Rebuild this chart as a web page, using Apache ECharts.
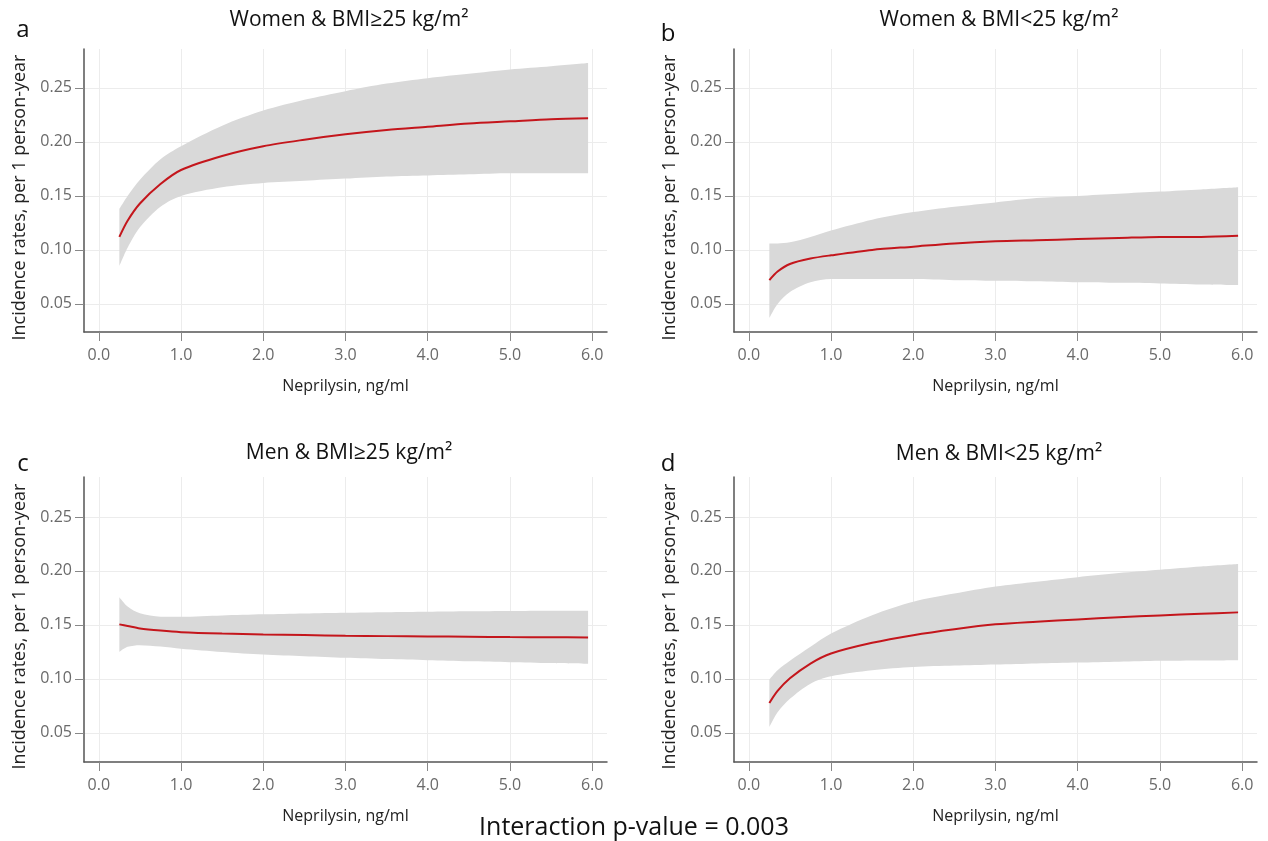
<!DOCTYPE html>
<html lang="en">
<head>
<meta charset="UTF-8">
<title>Neprilysin and incidence rates</title>
<script src="https://cdn.jsdelivr.net/npm/echarts@6/dist/echarts.min.js"></script>
<style>
  html, body { margin: 0; padding: 0; background: #fff; }
  #main { width: 1268px; height: 841px; }
</style>
</head>
<body>
<div id="main"></div>
<script>
// x positions (ng/ml) shared by every panel
var neprilysin = [0.25, 0.35, 0.5, 0.75, 1.0, 1.5, 2.0, 2.5, 3.0, 3.5, 4.0, 4.5, 5.0, 5.5, 5.95];
var xTicks = [0, 1, 2, 3, 4, 5, 6];
var yTicks = [0.05, 0.10, 0.15, 0.20, 0.25];

var panelTitles = ['Women & BMI≥25 kg/m²', 'Women & BMI<25 kg/m²', 'Men & BMI≥25 kg/m²', 'Men & BMI<25 kg/m²'];
var panelLetters = ['a', 'b', 'c', 'd'];

// a: women, BMI>=25
var rateA  = [0.112, 0.127, 0.143, 0.161, 0.174, 0.187, 0.196, 0.202, 0.207, 0.211, 0.214, 0.217, 0.219, 0.221, 0.222];
var lowerA = [0.085, 0.102, 0.121, 0.140, 0.150, 0.158, 0.162, 0.164, 0.166, 0.168, 0.169, 0.170, 0.171, 0.171, 0.171];
var upperA = [0.138, 0.150, 0.165, 0.184, 0.196, 0.215, 0.229, 0.239, 0.247, 0.254, 0.259, 0.263, 0.267, 0.270, 0.273];
// b: women, BMI<25
var rateB  = [0.072, 0.080, 0.087, 0.092, 0.095, 0.100, 0.103, 0.106, 0.108, 0.109, 0.110, 0.111, 0.112, 0.112, 0.113];
var lowerB = [0.037, 0.050, 0.061, 0.070, 0.073, 0.073, 0.073, 0.072, 0.0715, 0.071, 0.070, 0.0695, 0.069, 0.068, 0.0675];
var upperB = [0.106, 0.106, 0.107, 0.112, 0.118, 0.128, 0.135, 0.140, 0.144, 0.148, 0.150, 0.152, 0.154, 0.156, 0.158];
// c: men, BMI>=25
var rateC  = [0.1505, 0.149, 0.1467, 0.1447, 0.1433, 0.142, 0.1412, 0.1406, 0.140, 0.1396, 0.1393, 0.139, 0.1387, 0.1385, 0.1384];
var lowerC = [0.125, 0.1297, 0.1312, 0.130, 0.128, 0.125, 0.1226, 0.121, 0.1195, 0.1183, 0.1173, 0.1163, 0.1154, 0.1146, 0.1139];
var upperC = [0.1756, 0.167, 0.1607, 0.1576, 0.1576, 0.1588, 0.1598, 0.1606, 0.1613, 0.1618, 0.1622, 0.1626, 0.1629, 0.1631, 0.1632];
// d: men, BMI<25
var rateD  = [0.0776, 0.0888, 0.1005, 0.1142, 0.1235, 0.1334, 0.1405, 0.146, 0.1505, 0.153, 0.1551, 0.157, 0.1588, 0.1603, 0.1616];
var lowerD = [0.0553, 0.069, 0.0816, 0.0956, 0.1024, 0.108, 0.111, 0.1123, 0.1133, 0.1143, 0.1151, 0.1159, 0.1167, 0.117, 0.1173];
var upperD = [0.0993, 0.108, 0.1167, 0.1297, 0.142, 0.159, 0.1715, 0.179, 0.1855, 0.190, 0.1942, 0.198, 0.201, 0.204, 0.2063];

var rates  = [rateA, rateB, rateC, rateD];
var lowers = [lowerA, lowerB, lowerC, lowerD];
var uppers = [upperA, upperB, upperC, upperD];

var FONT = 'Open Sans';
var grids = [
    {left: 84,  top: 49,  width: 523, height: 283},
    {left: 734, top: 49,  width: 523, height: 283},
    {left: 84,  top: 477, width: 523, height: 285},
    {left: 734, top: 477, width: 523, height: 285}
];
var yRange = [[0.024, 0.286], [0.024, 0.286], [0.023, 0.287], [0.023, 0.287]];
var titlePos = [[344, 18], [994, 18], [344, 451], [994, 452]];
var letterPos = [[18, 28], [663, 32], [18, 462], [663, 462]];

// value first, x second: the stack then adds up the y values
function pairs(xs, ys) {
    return xs.map(function (x, i) { return [ys[i], x]; });
}

var option = {
    animation: false,
    backgroundColor: '#fff',
    title: [],
    grid: [],
    xAxis: [],
    yAxis: [],
    series: [],
    graphic: [{
        type: 'text',
        left: 'center',
        top: 815,
        style: {text: 'Interaction p-value = 0.003', font: '25px "Open Sans"', fill: '#111'}
    }]
};

for (var p = 0; p < 4; p++) {
    option.title.push({
        text: panelTitles[p],
        left: titlePos[p][0], top: titlePos[p][1] - 13,
        textAlign: 'center',
        textStyle: {fontFamily: FONT, fontSize: 21, fontWeight: 'normal', color: '#111'}
    });
    option.title.push({
        text: panelLetters[p],
        left: letterPos[p][0], top: letterPos[p][1] - 15,
        textAlign: 'center',
        textStyle: {fontFamily: FONT, fontSize: 24, fontWeight: 'normal', color: '#111'}
    });
    option.grid.push(grids[p]);
    option.xAxis.push({
        type: 'value', gridIndex: p,
        min: -0.18, max: 6.18,
        name: 'Neprilysin, ng/ml', nameLocation: 'middle', nameGap: 46,
        nameTextStyle: {fontFamily: FONT, fontSize: 16, color: '#222'},
        axisLine: {show: true, onZero: false, lineStyle: {color: '#555', width: 1.5}},
        axisTick: {show: true, length: 9, customValues: xTicks, lineStyle: {color: '#888'}},
        axisLabel: {customValues: xTicks, margin: 15, fontFamily: FONT, fontSize: 16, color: '#6a6a6a',
            formatter: function (v) { return v.toFixed(1); }},
        splitLine: {show: true, lineStyle: {color: '#ececec', width: 1}}
    });
    option.yAxis.push({
        type: 'value', gridIndex: p,
        min: yRange[p][0], max: yRange[p][1],
        name: 'Incidence rates, per 1 person-year', nameLocation: 'middle', nameGap: 55,
        nameTextStyle: {fontFamily: FONT, fontSize: 18, color: '#222', padding: [0, 14, 0, 0]},
        axisLine: {show: true, onZero: false, lineStyle: {color: '#555', width: 1.5}},
        axisTick: {show: true, length: 9, customValues: yTicks, lineStyle: {color: '#888'}},
        axisLabel: {customValues: yTicks, margin: 12, fontFamily: FONT, fontSize: 16, color: '#6a6a6a',
            formatter: function (v) { return v.toFixed(2); }},
        splitLine: {show: true, lineStyle: {color: '#ececec', width: 1}}
    });
    var width = uppers[p].map(function (u, i) { return u - lowers[p][i]; });
    var enc = {x: 1, y: 0};
    option.series.push({
        type: 'line', xAxisIndex: p, yAxisIndex: p, encode: enc,
        stack: 'ci' + p, data: pairs(neprilysin, lowers[p]),
        symbol: 'none', smooth: 0.3,
        lineStyle: {opacity: 0}, silent: true
    });
    option.series.push({
        type: 'line', xAxisIndex: p, yAxisIndex: p, encode: enc,
        stack: 'ci' + p, data: pairs(neprilysin, width),
        symbol: 'none', smooth: 0.3,
        lineStyle: {opacity: 0}, areaStyle: {color: '#d9d9d9', opacity: 1}, silent: true
    });
    option.series.push({
        type: 'line', xAxisIndex: p, yAxisIndex: p, encode: enc,
        data: pairs(neprilysin, rates[p]),
        symbol: 'none', smooth: 0.3,
        lineStyle: {color: '#c4161c', width: 2}
    });
}

var chart = echarts.init(document.getElementById('main'));
chart.setOption(option);
</script>
</body>
</html>
